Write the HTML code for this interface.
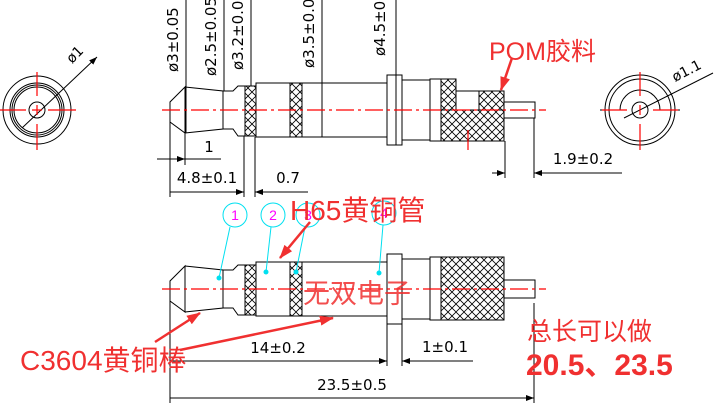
<!DOCTYPE html>
<html><head><meta charset="utf-8"><style>
html,body{margin:0;padding:0;background:#fff;}
svg{display:block;}
.t{font-family:"DejaVu Sans","Liberation Sans",sans-serif;fill:#000;}
.r{font-family:"Liberation Sans","Noto Sans CJK SC",sans-serif;fill:#f03030;}
</style></head><body>
<svg width="717" height="403" viewBox="0 0 717 403" xmlns="http://www.w3.org/2000/svg">
<defs>
<pattern id="h" width="8" height="8" patternUnits="userSpaceOnUse">
<path d="M0,0L8,8M8,0L0,8" stroke="#000" stroke-width="0.8"/>
</pattern>
<marker id="a" markerWidth="8" markerHeight="6" refX="8" refY="3" orient="auto" markerUnits="userSpaceOnUse"><path d="M0,0L8,3L0,6z" fill="#000"/></marker>
<marker id="ra" markerWidth="14" markerHeight="10" refX="13" refY="5" orient="auto" markerUnits="userSpaceOnUse"><path d="M0,0L14,5L0,10z" fill="#f03030"/></marker>
</defs>
<g fill="none" stroke="#000" stroke-width="1">
<circle cx="37" cy="110" r="34"/><circle cx="37" cy="110" r="27"/><circle cx="37" cy="110" r="25"/><circle cx="37" cy="110" r="23"/><circle cx="37" cy="110" r="8"/>
<line x1="22" y1="128" x2="97" y2="57" marker-end="url(#a)"/>
<circle cx="640" cy="110" r="35"/><circle cx="640" cy="110" r="31"/><path d="M620,110A20,20 0 0 1 660,110"/><circle cx="640" cy="110" r="8"/>
<line x1="624" y1="118" x2="713" y2="73"/>
<line x1="600" y1="110" x2="620" y2="110"/><line x1="660" y1="110" x2="680" y2="110"/>

<path d="M185,87L170,102L170,122L185,133Z"/>
<path d="M185,87L223,91L223,129L185,133"/>
<path d="M223,91L233,91L238,86L245,86L245,136L238,136L233,129L223,129"/>
<rect x="245" y="86" width="11" height="50" fill="url(#h)"/>
<rect x="256" y="83" width="131" height="54"/>
<rect x="290" y="83" width="12" height="54" fill="url(#h)"/>
<rect x="387" y="75" width="15" height="70"/>
<rect x="402" y="80" width="28" height="60"/>
<rect x="430" y="79" width="11" height="62"/>
<path d="M441,79L456,79L456,110L441,110Z" fill="url(#h)"/>
<path d="M456,91L504,91L504,110L456,110" />
<rect x="479" y="91" width="25" height="19" fill="url(#h)"/>
<rect x="441" y="110" width="63" height="31" fill="url(#h)"/>
<rect x="504" y="102" width="31" height="16"/>

<line x1="186" y1="0" x2="186" y2="133"/>
<line x1="224" y1="0" x2="224" y2="91"/>
<line x1="251" y1="0" x2="251" y2="86"/>
<line x1="322" y1="0" x2="322" y2="137"/>
<line x1="396" y1="0" x2="396" y2="145"/>
<line x1="170" y1="122" x2="170" y2="197"/>
<line x1="185" y1="133" x2="185" y2="165"/>
<line x1="244" y1="136" x2="244" y2="197"/>
<line x1="255" y1="137" x2="255" y2="197"/>
<line x1="157" y1="159" x2="185" y2="159" marker-end="url(#a)"/>
<line x1="221" y1="159" x2="185" y2="159"/>
<line x1="170" y1="192" x2="244" y2="192" marker-end="url(#a)"/>
<line x1="308" y1="192" x2="255" y2="192" marker-end="url(#a)"/>
<line x1="505" y1="141" x2="505" y2="178"/>
<line x1="534" y1="118" x2="534" y2="178"/>
<line x1="492" y1="173" x2="505" y2="173" marker-end="url(#a)"/>
<line x1="622" y1="173" x2="534" y2="173" marker-end="url(#a)"/>

<path d="M185,266L170,281L170,301L185,312Z"/>
<path d="M185,266L223,270L223,308L185,312"/>
<path d="M223,270L233,270L238,265L245,265L245,315L238,315L233,308L223,308"/>
<rect x="245" y="265" width="11" height="50" fill="url(#h)"/>
<rect x="256" y="262" width="131" height="54"/>
<rect x="290" y="262" width="12" height="54" fill="url(#h)"/>
<rect x="387" y="254" width="15" height="70"/>
<rect x="402" y="259" width="28" height="60"/>
<rect x="430" y="257" width="11" height="63"/>
<rect x="441" y="257" width="63" height="63" fill="url(#h)"/>
<rect x="504" y="280" width="31" height="18"/>
<line x1="170" y1="301" x2="170" y2="403"/>
<line x1="387" y1="324" x2="387" y2="366"/>
<line x1="402" y1="324" x2="402" y2="366"/>
<line x1="534" y1="303" x2="534" y2="403"/>
<line x1="170" y1="361" x2="387" y2="361" marker-end="url(#a)"/>
<line x1="473" y1="361" x2="402" y2="361" marker-end="url(#a)"/>
<line x1="170" y1="398" x2="534" y2="398" marker-end="url(#a)"/>
</g>
<g stroke="#f00" stroke-width="1.2" fill="none" stroke-dasharray="18,4,3,4">
<line x1="162" y1="110" x2="546" y2="110"/>
<line x1="162" y1="289" x2="546" y2="289"/>
</g>
<g stroke="#f00" stroke-width="1.2">
<line x1="0" y1="110" x2="26" y2="110"/><line x1="48" y1="110" x2="76" y2="110"/><line x1="32" y1="110" x2="42" y2="110"/>
<line x1="37" y1="72" x2="37" y2="96"/><line x1="37" y1="105" x2="37" y2="115"/><line x1="37" y1="124" x2="37" y2="150"/>
<line x1="640" y1="72" x2="640" y2="96"/><line x1="640" y1="105" x2="640" y2="115"/><line x1="640" y1="124" x2="640" y2="150"/>
<line x1="602" y1="110" x2="627" y2="110"/><line x1="653" y1="110" x2="678" y2="110"/>
<line x1="468" y1="130" x2="468" y2="150"/>
</g>
<g class="t" font-size="15">
<text transform="translate(178,72) rotate(-90)">ø3±0.05</text>
<text transform="translate(216,76) rotate(-90)">ø2.5±0.05</text>
<text transform="translate(243,70) rotate(-90)">ø3.2±0.05</text>
<text transform="translate(314,68) rotate(-90)">ø3.5±0.05</text>
<text transform="translate(385,56) rotate(-90)">ø4.5±0.05</text>
<text transform="translate(72,64) rotate(-45)" font-size="14">ø1</text>
<text transform="translate(675,82) rotate(-27)" font-size="14">ø1.1</text>
<text x="209" y="152" text-anchor="middle">1</text>
<text x="207" y="183" text-anchor="middle">4.8±0.1</text>
<text x="288" y="183" text-anchor="middle">0.7</text>
<text x="583" y="164" text-anchor="middle">1.9±0.2</text>
<text x="278" y="353" text-anchor="middle">14±0.2</text>
<text x="445" y="352" text-anchor="middle">1±0.1</text>
<text x="352" y="390" text-anchor="middle">23.5±0.5</text>
</g>
<g stroke="#00e0f0" fill="none" stroke-width="1">
<circle cx="235" cy="215" r="12"/><circle cx="273" cy="215" r="12"/><circle cx="308" cy="215" r="12"/><circle cx="384" cy="213" r="12"/>
<line x1="230" y1="227" x2="219" y2="278"/><line x1="271" y1="227" x2="266" y2="272"/><line x1="305" y1="227" x2="296" y2="272"/><line x1="383" y1="225" x2="379" y2="273"/>
</g>
<g fill="#00e0f0"><circle cx="219" cy="278" r="2.5"/><circle cx="266" cy="272" r="2.5"/><circle cx="296" cy="272" r="2.5"/><circle cx="379" cy="273" r="2.5"/></g>
<g fill="#f0f" font-family="Liberation Sans,sans-serif" font-size="14" text-anchor="middle">
<text x="235" y="220">1</text><text x="273" y="220">2</text><text x="308" y="220">3</text><text x="384" y="218">4</text>
</g>
<g stroke="#f03030" stroke-width="2.5" fill="none">
<line x1="512" y1="58" x2="501" y2="90" marker-end="url(#ra)"/>
<line x1="310" y1="222" x2="280" y2="258" marker-end="url(#ra)"/>
<line x1="155" y1="342" x2="200" y2="313" marker-end="url(#ra)"/>
<line x1="180" y1="350" x2="333" y2="318" marker-end="url(#ra)"/>
</g>
<text class="r" x="489" y="60" font-size="25">POM胶料</text>
<text class="r" x="290" y="220" font-size="28">H65黄铜管</text>
<text class="r" x="303" y="303" font-size="27" opacity="0.85">无双电子</text>
<text class="r" x="20" y="370" font-size="28">C3604黄铜棒</text>
<text class="r" x="527" y="340" font-size="25">总长可以做</text>
<text class="r" x="526" y="375" font-size="30" font-weight="bold">20.5、23.5</text>
</svg>
</body></html>
